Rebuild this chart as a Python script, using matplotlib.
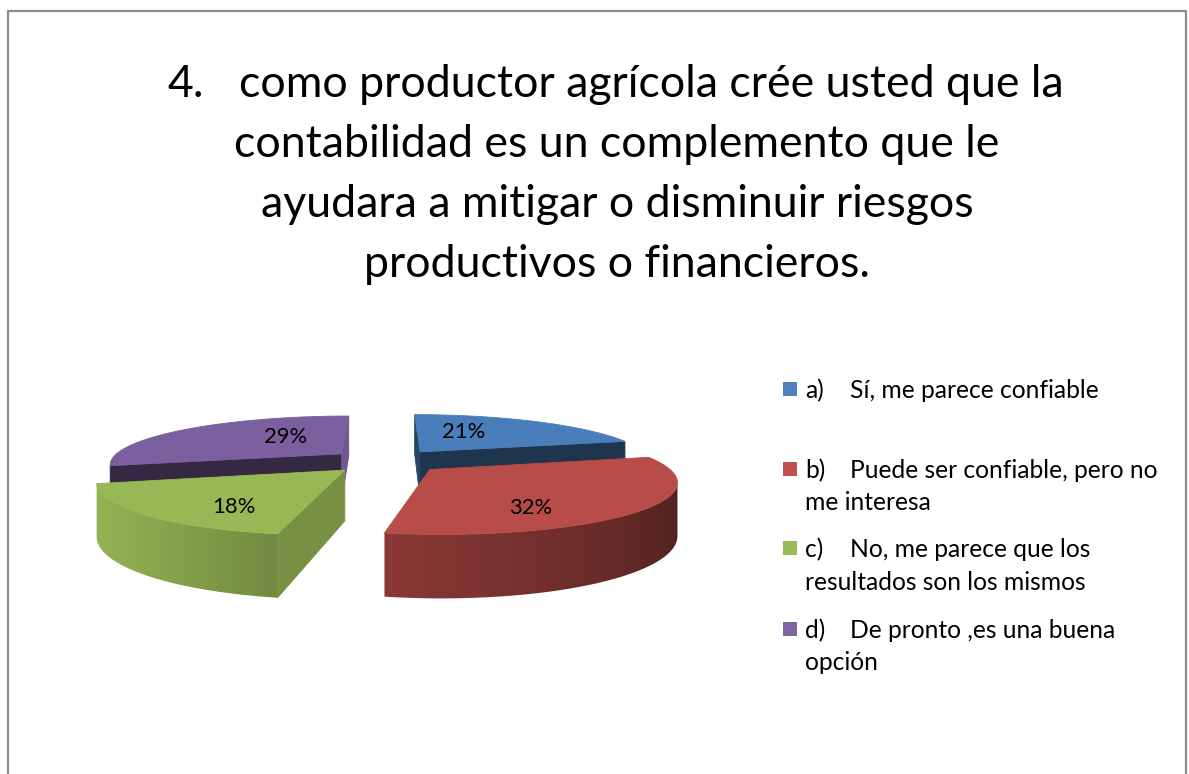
import numpy as np
import matplotlib
matplotlib.use("Agg")
import matplotlib.pyplot as plt
from matplotlib.patches import Polygon, Rectangle
from matplotlib.lines import Line2D

# ---------------- data ----------------
title_lines = [
    "como productor agrícola crée usted que la",
    "contabilidad es un complemento que le",
    "ayudara a mitigar o disminuir riesgos",
    "productivos o financieros.",
]
title_number = "4."
legend_keys = ["a)", "b)", "c)", "d)"]
legend_texts = [
    "Sí, me parece confiable",
    "Puede ser confiable, pero no\nme interesa",
    "No, me parece que los\nresultados son los mismos",
    "De pronto ,es una buena\nopción",
]
percentages = [21, 32, 18, 29]
pct_labels = ["21%", "32%", "18%", "29%"]

# ---------------- style ----------------
W, H = 1189, 774
FAMILY = ["Lato", "DejaVu Sans"]
legend_colors = ["#4F81BD", "#C0504D", "#9BBB59", "#8064A2"]
top_colors = ["#4A7EBA", "#B74C49", "#98B856", "#7B60A0"]
cut_start_shade = [0.55, 0.42, 0.78, 0.42]
cut_end_shade = [0.42, 0.42, 0.42, 0.90]
explode = 0.25

# 3D pie projection parameters (pixel space)
CX, CY = 386.0, 461.0
AX, BY, HZ = 232.0, 48.0, 49.0
KPERS = 0.2
LIGHT = np.array([-0.958, -0.287])


def project(X, D, Z):
    p = 1.0 / (1.0 + KPERS * D)
    return CX + AX * X * p, CY - (BY * D + HZ * Z) * p


def shade(c, f):
    rgb = np.array(matplotlib.colors.to_rgb(c))
    return tuple(np.clip(rgb * f, 0, 1))


fig = plt.figure(figsize=(W / 100, H / 100), dpi=100)
ax = fig.add_axes([0, 0, 1, 1])
ax.set_xlim(0, W)
ax.set_ylim(H, 0)
ax.axis("off")
renderer = fig.canvas.get_renderer()


def fit_size(s, target):
    t = ax.text(0, 0, s, fontsize=20, family=FAMILY)
    w = t.get_window_extent(renderer).width
    t.remove()
    return 20 * target / w


# border
ax.add_line(Line2D([8, 8, 1186, 1186], [H + 5, 11, 11, H + 5], color="#8C8C8C", lw=1.6))

# title
tsize = fit_size(title_lines[1], 767)
ax.text(168, 97, title_number, fontsize=tsize, family=FAMILY, ha="left", va="baseline", color="black")
ax.text(1064, 97, title_lines[0], fontsize=tsize, family=FAMILY, ha="right", va="baseline", color="black")
for i, line in enumerate(title_lines[1:]):
    ax.text(617, 157 + 60 * i, line, fontsize=tsize, family=FAMILY, ha="center", va="baseline", color="black")

# pie geometry from data
vals = np.array(percentages, dtype=float)
fr = vals / vals.sum()
ends = np.cumsum(fr) * 360.0
starts = ends - fr * 360.0
mids = (starts + ends) / 2
cam = np.array([0.0, -1.0 / KPERS])

slices = []
for i in range(len(vals)):
    m = np.radians(mids[i])
    c = np.array([explode * np.sin(m), explode * np.cos(m)])
    slices.append((c[1], i, c))
slices.sort(key=lambda s: -s[0])  # back first

for _, i, c in slices:
    th = np.radians(np.linspace(starts[i], ends[i], 160))
    ox = c[0] + np.sin(th)
    od = c[1] + np.cos(th)
    # visible part of outer side, as one polygon with a horizontal gradient
    nvec = np.stack([np.sin(th), np.cos(th)], axis=1)
    P = c + nvec
    vis = np.einsum("ij,ij->i", nvec, cam - P) > 0
    if vis.sum() >= 2:
        idx = np.where(vis)[0]
        top = [project(ox[j], od[j], 0) for j in idx]
        bot = [project(ox[j], od[j], -1) for j in idx[::-1]]
        poly = Polygon(top + bot, closed=True, facecolor="none", edgecolor="none")
        ax.add_patch(poly)
        xs = np.array([t[0] for t in top])
        fs = np.interp(nvec[idx] @ LIGHT, [-1.0, 0.46, 1.0], [0.40, 0.75, 0.97])
        order = np.argsort(xs)
        x0, x1 = xs.min() - 2, xs.max() + 2
        ys = [t[1] for t in top + bot]
        y0, y1 = min(ys) - 2, max(ys) + 2
        gx = np.linspace(x0, x1, 400)
        gf = np.interp(gx, xs[order], fs[order])
        base = np.array(matplotlib.colors.to_rgb(top_colors[i]))
        img = np.clip(gf[None, :, None] * base[None, None, :], 0, 1)
        im = ax.imshow(img, extent=[x0, x1, y1, y0], aspect="auto",
                       interpolation="bilinear", zorder=1)
        im.set_clip_path(poly)
        edge = Polygon(top + bot, closed=True, facecolor="none",
                       edgecolor=shade(top_colors[i], 0.6), lw=0.0, zorder=1)
        ax.add_patch(edge)
    # radial cut faces
    for ang, sgn, sh in [(starts[i], -1, cut_start_shade[i]), (ends[i], 1, cut_end_shade[i])]:
        a = np.radians(ang)
        na = a + sgn * np.pi / 2
        n = np.array([np.sin(na), np.cos(na)])
        e = c + np.array([np.sin(a), np.cos(a)])
        Pm = (c + e) / 2
        if np.dot(n, cam - Pm) <= 0:
            continue
        col = shade(top_colors[i], sh)
        pts = [project(c[0], c[1], 0), project(e[0], e[1], 0),
               project(e[0], e[1], -1), project(c[0], c[1], -1)]
        ax.add_patch(Polygon(pts, closed=True, facecolor=col, edgecolor=col, lw=0.6, zorder=1))
    # top face
    pts = [project(c[0], c[1], 0)] + [project(x, d, 0) for x, d in zip(ox, od)]
    ax.add_patch(Polygon(pts, closed=True, facecolor=top_colors[i], edgecolor=top_colors[i],
                         lw=0.6, zorder=1))

# data labels
lsize = fit_size("21%", 43)
label_pos = [(464, 438), (531, 514), (234, 513), (286, 443)]
for s, (x, y) in zip(pct_labels, label_pos):
    ax.text(x, y, s, fontsize=lsize, family=FAMILY, ha="center", va="baseline", color="black", zorder=3)

# legend
gsize = fit_size("resultados son los mismos", 282)
legend_baselines = [[398], [478, 510], [557, 590], [638, 670]]
for k, txt, col, bl in zip(legend_keys, legend_texts, legend_colors, legend_baselines):
    ax.add_patch(Rectangle((783, bl[0] - 16), 14, 14, facecolor=col, edgecolor="none"))
    lines = txt.split("\n")
    ax.text(805, bl[0], k, fontsize=gsize, family=FAMILY, ha="left", va="baseline")
    ax.text(850, bl[0], lines[0], fontsize=gsize, family=FAMILY, ha="left", va="baseline")
    for ln, y in zip(lines[1:], bl[1:]):
        ax.text(805, y, ln, fontsize=gsize, family=FAMILY, ha="left", va="baseline")

fig.savefig("out.png", dpi=100, facecolor="white")
